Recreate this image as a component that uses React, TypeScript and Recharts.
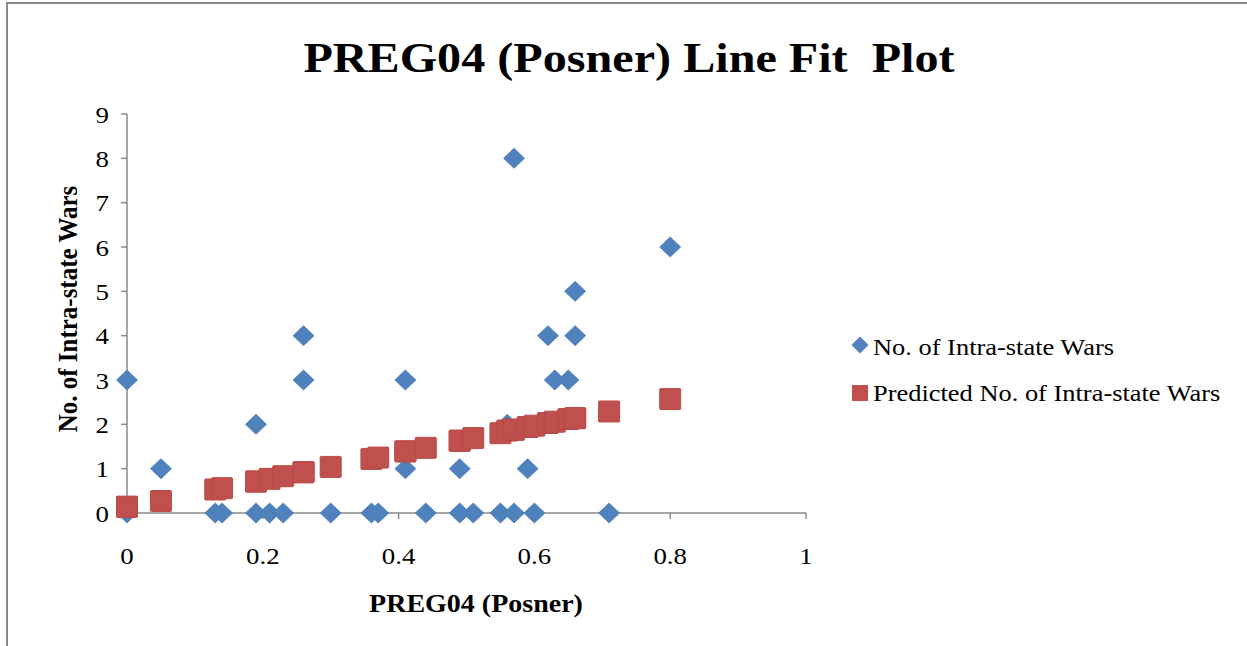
import { Scatter, ScatterChart, XAxis, YAxis } from "recharts";

// PREG04 (Posner) value for each country observation
const preg04 = [
  0, 0, 0.05, 0.13, 0.14, 0.19, 0.19, 0.21, 0.23, 0.26, 0.26, 0.3, 0.36, 0.37, 0.41, 0.41, 0.44,
  0.49, 0.49, 0.51, 0.55, 0.56, 0.57, 0.57, 0.59, 0.6, 0.62, 0.63, 0.65, 0.66, 0.66, 0.71, 0.8,
];
const wars = [
  3, 0, 1, 0, 0, 2, 0, 0, 0, 4, 3, 0, 0, 0, 3, 1, 0,
  1, 0, 0, 0, 2, 8, 0, 1, 0, 4, 3, 3, 5, 4, 0, 6,
];
const predicted = [
  0.14, 0.14, 0.27, 0.53, 0.56, 0.71, 0.71, 0.77, 0.83, 0.92, 0.92, 1.04, 1.22, 1.25, 1.39, 1.39, 1.47,
  1.63, 1.63, 1.69, 1.8, 1.86, 1.88, 1.88, 1.94, 1.97, 2.03, 2.06, 2.12, 2.14, 2.14, 2.29, 2.57,
];
const xTicks = [0, 0.2, 0.4, 0.6, 0.8, 1];
const yTicks = [0, 1, 2, 3, 4, 5, 6, 7, 8, 9];
const seriesNames = ["No. of Intra-state Wars", "Predicted No. of Intra-state Wars"];

const BLUE = "#4F81BD";
const RED = "#C0504D";
const AXIS = "#898989";
const FONT = '"Liberation Serif", "Times New Roman", serif';
const SX = 1.12; // source picture is a bit wider than tall

const actualPts = preg04.map((x, i) => ({ x, y: wars[i] }));
const predPts = preg04.map((x, i) => ({ x, y: predicted[i] }));

function Diamond(props: any) {
  const { cx, cy } = props;
  if (cx == null || cy == null) return null;
  const w = 10.5, h = 10;
  return <path d={`M${cx},${cy - h}L${cx + w},${cy}L${cx},${cy + h}L${cx - w},${cy}Z`} fill={BLUE} stroke="#4A7EBB" strokeWidth={0.8} />;
}

function Square(props: any) {
  const { cx, cy } = props;
  if (cx == null || cy == null) return null;
  return <rect x={cx - 10.5} y={cy - 10.5} width={21} height={21} fill={RED} stroke="#BA4A47" strokeWidth={1} rx={1} />;
}

function XTick({ x, y, payload }: any) {
  return (
    <text transform={`translate(${x},${y}) scale(${SX},1)`} textAnchor="middle" dy="0.71em" fontSize={24} fontFamily={FONT} fill="#000">
      {payload.value}
    </text>
  );
}

function YTick({ x, y, payload }: any) {
  return (
    <text transform={`translate(${x},${y}) scale(${SX},1)`} textAnchor="end" dy="0.36em" fontSize={24} fontFamily={FONT} fill="#000">
      {payload.value}
    </text>
  );
}

export default function App() {
  return (
    <div style={{ position: "absolute", left: 0, top: 0, width: 1247, height: 646, background: "#fff", fontFamily: FONT }}>
      <div style={{ position: "absolute", left: 6, top: 2, width: 1241, height: 644, borderTop: `2px solid ${AXIS}`, borderLeft: `2px solid ${AXIS}` }} />
      <ScatterChart width={1247} height={646} margin={{ top: 114, right: 441, bottom: 93, left: 0 }}>
        <XAxis
          type="number"
          dataKey="x"
          domain={[0, 1]}
          ticks={xTicks}
          interval={0}
          stroke={AXIS}
          strokeWidth={1.5}
          tickSize={6}
          tickMargin={28}
          height={40}
          tick={<XTick />}
        />
        <YAxis
          type="number"
          dataKey="y"
          domain={[0, 9]}
          ticks={yTicks}
          interval={0}
          stroke={AXIS}
          strokeWidth={1.5}
          tickSize={6}
          tickMargin={12}
          width={127}
          tick={<YTick />}
        />
        <Scatter name={seriesNames[0]} data={actualPts} shape={Diamond} isAnimationActive={false} />
        <Scatter name={seriesNames[1]} data={predPts} shape={Square} isAnimationActive={false} />
      </ScatterChart>
      <svg width={1247} height={646} style={{ position: "absolute", left: 0, top: 0, pointerEvents: "none" }}>
        <text transform={`translate(629,72) scale(${SX},1)`} textAnchor="middle" fontSize={43} fontWeight="bold" fontFamily={FONT} style={{ whiteSpace: "pre" }}>
          PREG04 (Posner) Line Fit  Plot
        </text>
        <text transform={`translate(476,612) scale(${SX},1)`} textAnchor="middle" fontSize={25} fontWeight="bold" fontFamily={FONT}>
          PREG04 (Posner)
        </text>
        <text transform={`translate(77,309) scale(${SX},1) rotate(-90)`} textAnchor="middle" fontSize={25} fontWeight="bold" fontFamily={FONT}>
          No. of Intra-state Wars
        </text>
        <path d="M860,336.5L868.5,345L860,353.5L851.5,345Z" fill={BLUE} />
        <text transform={`translate(873,355) scale(${SX},1)`} fontSize={23.6} fontFamily={FONT}>
          {seriesNames[0]}
        </text>
        <rect x={852} y={385} width={16} height={16} fill={RED} />
        <text transform={`translate(873,401) scale(${SX},1)`} fontSize={23.6} fontFamily={FONT}>
          {seriesNames[1]}
        </text>
      </svg>
    </div>
  );
}
